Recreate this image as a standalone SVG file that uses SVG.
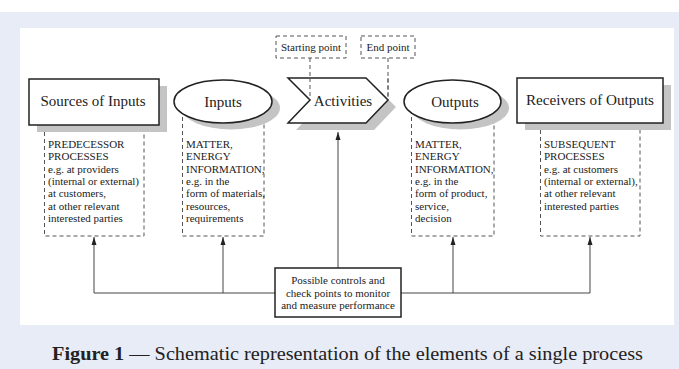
<svg xmlns="http://www.w3.org/2000/svg" width="679" height="369" viewBox="0 0 679 369">
<defs>
<style>
.t{font-family:"Liberation Serif","Times New Roman",serif;fill:#222}
.lbl{font-size:15px;text-anchor:middle}
.sm{font-size:11px}
.ctr{text-anchor:middle}
.node{fill:#fff;stroke:#222;stroke-width:1.5}
.shadow{fill:#c4c4c4}
.dash{fill:none;stroke:#555;stroke-width:1;stroke-dasharray:4 3}
.conn{fill:none;stroke:#444;stroke-width:1}
</style>
<marker id="arr" viewBox="0 0 8 8" refX="8" refY="4" markerWidth="8" markerHeight="8" markerUnits="userSpaceOnUse" orient="auto">
<path d="M0,1.5 L8,4 L0,6.5 z" fill="#222"/>
</marker>
</defs>
<rect x="0" y="0" width="679" height="369" fill="#fff"/>
<rect x="0" y="12" width="679" height="357" fill="#e8ecf6"/>
<rect x="20" y="28" width="654" height="297" fill="#fff"/>

<g id="connectors">
<line class="dash" x1="310" y1="58" x2="310" y2="100"/>
<line class="dash" x1="388" y1="58" x2="388" y2="100"/>
<polyline class="conn" points="275,293 94,293 94,237" marker-end="url(#arr)"/>
<line class="conn" x1="223" y1="293" x2="223" y2="237" marker-end="url(#arr)"/>
<polyline class="conn" points="401,293 590,293 590,237" marker-end="url(#arr)"/>
<line class="conn" x1="453" y1="293" x2="453" y2="237" marker-end="url(#arr)"/>
<line class="conn" x1="338" y1="268" x2="338" y2="132" marker-end="url(#arr)"/>
</g>

<g id="starting-point">
<rect class="dash" x="276" y="36" width="70" height="22"/>
<text class="t sm ctr" x="311" y="51">Starting point</text>
</g>
<g id="end-point">
<rect class="dash" x="361" y="36" width="54" height="22"/>
<text class="t sm ctr" x="388" y="51">End point</text>
</g>

<g id="sources-of-inputs">
<path class="dash" d="M44.5,125 V236 H144 V125"/>
<rect class="shadow" x="37" y="86" width="130" height="46"/>
<rect class="node" x="29" y="79" width="130" height="46"/>
<text class="t lbl" x="93" y="106">Sources of Inputs</text>
<text class="t sm" x="48" y="148">
<tspan x="48">PREDECESSOR</tspan>
<tspan x="48" dy="12.3">PROCESSES</tspan>
<tspan x="48" dy="12.3">e.g. at providers</tspan>
<tspan x="48" dy="12.3">(internal or external)</tspan>
<tspan x="48" dy="12.3">at customers,</tspan>
<tspan x="48" dy="12.3">at other relevant</tspan>
<tspan x="48" dy="12.3">interested parties</tspan>
</text>
</g>

<g id="inputs">
<path class="dash" d="M182.5,110 V236 H264 V110"/>
<ellipse class="shadow" cx="231" cy="108" rx="49" ry="21.5"/>
<ellipse class="node" cx="223" cy="101.5" rx="49" ry="21.5"/>
<text class="t lbl" x="223" y="107">Inputs</text>
<text class="t sm" x="186" y="148">
<tspan x="186">MATTER,</tspan>
<tspan x="186" dy="12.3">ENERGY</tspan>
<tspan x="186" dy="12.3">INFORMATION,</tspan>
<tspan x="186" dy="12.3">e.g. in the</tspan>
<tspan x="186" dy="12.3">form of materials,</tspan>
<tspan x="186" dy="12.3">resources,</tspan>
<tspan x="186" dy="12.3">requirements</tspan>
</text>
</g>

<g id="activities">
<polygon class="shadow" points="296,85 374,85 396,107 374,130 296,130 318,107"/>
<polygon class="node" points="288,78 366,78 388,100 366,123 288,123 310,100"/>
<line class="dash" x1="310" y1="78" x2="310" y2="100"/>
<line class="dash" x1="388" y1="78" x2="388" y2="100"/>
<text class="t lbl" x="343" y="106">Activities</text>
</g>

<g id="outputs">
<path class="dash" d="M411.5,110 V236 H494 V110"/>
<ellipse class="shadow" cx="460.5" cy="108" rx="48.5" ry="21.5"/>
<ellipse class="node" cx="452.5" cy="101.5" rx="48.5" ry="21.5"/>
<text class="t lbl" x="455" y="107">Outputs</text>
<text class="t sm" x="415" y="148">
<tspan x="415">MATTER,</tspan>
<tspan x="415" dy="12.3">ENERGY</tspan>
<tspan x="415" dy="12.3">INFORMATION,</tspan>
<tspan x="415" dy="12.3">e.g. in the</tspan>
<tspan x="415" dy="12.3">form of product,</tspan>
<tspan x="415" dy="12.3">service,</tspan>
<tspan x="415" dy="12.3">decision</tspan>
</text>
</g>

<g id="receivers-of-outputs">
<path class="dash" d="M540.5,123 V236 H640 V123"/>
<rect class="shadow" x="525" y="85" width="146" height="45"/>
<rect class="node" x="517" y="78" width="146" height="45"/>
<text class="t lbl" x="590" y="105" textLength="128" lengthAdjust="spacingAndGlyphs">Receivers of Outputs</text>
<text class="t sm" x="544" y="148">
<tspan x="544">SUBSEQUENT</tspan>
<tspan x="544" dy="12.3">PROCESSES</tspan>
<tspan x="544" dy="12.3">e.g. at customers</tspan>
<tspan x="544" dy="12.3">(internal or external),</tspan>
<tspan x="544" dy="12.3">at other relevant</tspan>
<tspan x="544" dy="12.3">interested parties</tspan>
</text>
</g>

<g id="controls">
<rect class="node" x="275" y="268" width="126" height="49"/>
<text class="t sm ctr" x="338" y="284">Possible controls and</text>
<text class="t sm ctr" x="338" y="296.5">check points to monitor</text>
<text class="t sm ctr" x="338" y="309">and measure performance</text>
</g>

<text class="t" x="52" y="360" font-size="19" textLength="591" lengthAdjust="spacingAndGlyphs"><tspan font-weight="bold">Figure 1</tspan> — Schematic representation of the elements of a single process</text>
</svg>
